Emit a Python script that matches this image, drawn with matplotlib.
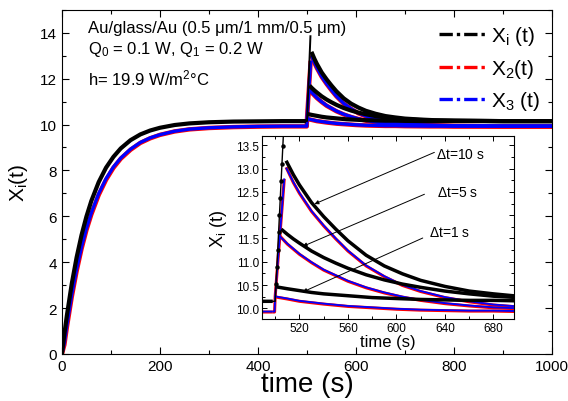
import matplotlib.pyplot as plt
from matplotlib.lines import Line2D
from matplotlib.ticker import MultipleLocator, FormatStrFormatter

plt.rcParams["font.family"] = ["Liberation Sans", "DejaVu Sans"]
plt.rcParams["mathtext.default"] = "regular"

# heating from t=0 up to the pulse
t_heat = [0, 5, 10, 20, 30, 40, 50, 60, 75, 90, 105, 120, 140, 160, 180, 200,
          230, 260, 300, 350, 400, 450, 498]
x1_heat = [0, 0.87, 1.66, 3.05, 4.21, 5.18, 5.99, 6.67, 7.49, 8.12, 8.59, 8.96,
           9.32, 9.57, 9.74, 9.86, 9.98, 10.05, 10.10, 10.13, 10.14, 10.15, 10.15]
x2_heat = [0, 0.40, 1.15, 2.48, 3.61, 4.58, 5.40, 6.08, 6.93, 7.59, 8.11, 8.51,
           8.90, 9.20, 9.40, 9.55, 9.70, 9.79, 9.85, 9.89, 9.91, 9.92, 9.92]
x3_heat = [0, 0.48, 1.24, 2.57, 3.70, 4.66, 5.47, 6.15, 6.99, 7.64, 8.15, 8.54,
           8.93, 9.22, 9.42, 9.56, 9.71, 9.80, 9.86, 9.90, 9.92, 9.93, 9.93]

# rise during the pulse
t1_rise = [498, 500, 500.7, 501.4, 502.1, 502.8, 503.5, 504.2, 504.9, 505.6,
           506.3, 507.0]
x1_rise = [10.15, 10.15, 10.52, 10.89, 11.26, 11.63, 12.00, 12.37, 12.74,
           13.11, 13.48, 13.85]
t23_rise = [498, 499.5, 500, 507.5]
x2_rise = [9.92, 9.92, 10.26, 12.78]
x3_rise = [9.93, 9.93, 10.27, 12.79]

# decay, dt = 10 s
t_d10 = [509, 515, 520, 530, 540, 550, 560, 575, 590, 605, 620, 640, 660, 680,
         700, 730, 760, 800, 850, 900, 1000]
x1_d10 = [13.17, 12.87, 12.65, 12.27, 11.97, 11.70, 11.45, 11.14, 10.91, 10.74,
          10.60, 10.47, 10.37, 10.31, 10.26, 10.22, 10.19, 10.17, 10.16, 10.15, 10.15]
x2_d10 = [13.03, 12.70, 12.47, 12.08, 11.77, 11.49, 11.23, 10.91, 10.68, 10.49,
          10.36, 10.23, 10.14, 10.07, 10.03, 9.98, 9.96, 9.94, 9.93, 9.92, 9.92]
x3_d10 = [13.02, 12.71, 12.48, 12.09, 11.78, 11.50, 11.24, 10.92, 10.69, 10.50,
          10.37, 10.24, 10.15, 10.08, 10.04, 9.99, 9.97, 9.95, 9.94, 9.93, 9.93]

# decay, dt = 5 s
t1_d5 = [505, 510, 515, 520, 530, 540, 550, 560, 575, 590, 605, 620, 640, 660,
         680, 700, 730, 760, 800, 850, 900, 1000]
x1_d5 = [11.70, 11.59, 11.49, 11.40, 11.23, 11.09, 10.97, 10.86, 10.72, 10.61,
         10.52, 10.45, 10.37, 10.31, 10.26, 10.23, 10.20, 10.18, 10.17, 10.16, 10.15, 10.15]
t23_d5 = [504, 510, 515, 520, 530, 540, 550, 560, 575, 590, 605, 620, 640, 660,
          680, 700, 730, 760, 800, 850, 900, 1000]
x2_d5 = [11.55, 11.38, 11.27, 11.16, 10.98, 10.82, 10.70, 10.58, 10.44, 10.33,
         10.24, 10.17, 10.10, 10.05, 10.01, 9.99, 9.96, 9.95, 9.93, 9.93, 9.92, 9.92]
x3_d5 = [11.54, 11.39, 11.28, 11.17, 10.99, 10.83, 10.71, 10.59, 10.45, 10.34,
         10.25, 10.18, 10.11, 10.06, 10.02, 10.00, 9.97, 9.96, 9.94, 9.94, 9.93, 9.93]

# decay, dt = 1 s
t1_d1 = [501, 510, 520, 530, 540, 560, 580, 600, 620, 640, 660, 680, 700, 750,
         800, 900, 1000]
x1_d1 = [10.46, 10.42, 10.38, 10.34, 10.31, 10.27, 10.23, 10.21, 10.19, 10.18,
         10.17, 10.17, 10.16, 10.15, 10.15, 10.15, 10.15]
t23_d1 = [500, 501, 510, 520, 530, 540, 560, 580, 600, 620, 640, 660, 680, 700,
          750, 800, 900, 1000]
x2_d1 = [10.26, 10.24, 10.20, 10.15, 10.12, 10.09, 10.04, 10.01, 9.98, 9.96,
         9.95, 9.94, 9.94, 9.93, 9.92, 9.92, 9.92, 9.92]
x3_d1 = [10.27, 10.25, 10.21, 10.16, 10.13, 10.10, 10.05, 10.02, 9.99, 9.97,
         9.96, 9.95, 9.95, 9.94, 9.93, 9.93, 9.93, 9.93]

legend_labels = ["X$_i$ (t)", "X$_2$(t)", "X$_3$ (t)"]
pulse_labels = ["$\\Delta$t=10 s", "$\\Delta$t=5 s", "$\\Delta$t=1 s"]


def draw_curves(ax, lw_k, lw_r, lw_b, dots):
    red_curves = [(t_heat, x2_heat), (t23_rise, x2_rise), (t_d10, x2_d10),
                  (t23_d5, x2_d5), (t23_d1, x2_d1)]
    blue_curves = [(t_heat, x3_heat), (t23_rise, x3_rise), (t_d10, x3_d10),
                   (t23_d5, x3_d5), (t23_d1, x3_d1)]
    black_curves = [(t_heat, x1_heat), (t_d10, x1_d10), (t1_d5, x1_d5),
                    (t1_d1, x1_d1)]
    for t, x in red_curves:
        ax.plot(t, x, color="red", lw=lw_r, solid_capstyle="butt")
    for t, x in blue_curves:
        ax.plot(t, x, color="blue", lw=lw_b, solid_capstyle="butt")
    for t, x in black_curves:
        ax.plot(t, x, color="black", lw=lw_k, solid_capstyle="butt")
    if dots:
        ax.plot(t1_rise, x1_rise, color="black", lw=1.0, marker="o", ms=2.2,
                markevery=slice(2, None))
    else:
        ax.plot(t1_rise, x1_rise, color="black", lw=1.4)


fig = plt.figure(figsize=(5.68, 4.02), dpi=100)

# main panel
ax = fig.add_axes([0.109, 0.117, 0.863, 0.856])
draw_curves(ax, 3.0, 3.2, 2.4, dots=False)
ax.set_xlim(0, 1000)
ax.set_ylim(0, 15)
ax.xaxis.set_major_locator(MultipleLocator(200))
ax.xaxis.set_minor_locator(MultipleLocator(100))
ax.yaxis.set_major_locator(MultipleLocator(2))
ax.yaxis.set_minor_locator(MultipleLocator(1))
ax.tick_params(which="both", direction="in", top=True, right=True,
               labelsize=11, width=0.8)
ax.tick_params(which="major", length=5)
ax.tick_params(which="minor", length=3)
ax.set_xlabel("time (s)", fontsize=20, labelpad=-1)
ax.set_ylabel("X$_i$(t)", fontsize=15, labelpad=7)

ax.text(0.053, 0.948, "Au/glass/Au (0.5 \u03bcm/1 mm/0.5 \u03bcm)",
        transform=ax.transAxes, fontsize=12, va="center")
ax.text(0.053, 0.887, "Q$_0$ = 0.1 W, Q$_1$ = 0.2 W",
        transform=ax.transAxes, fontsize=12, va="center")
ax.text(0.053, 0.805, "h= 19.9 W/m$^2$\u00b0C",
        transform=ax.transAxes, fontsize=12, va="center")

dashdot = (0, (4, 1.2, 1, 1.2))
handles = [Line2D([], [], color=c, lw=2.4, linestyle=dashdot)
           for c in ["black", "red", "blue"]]
ax.legend(handles, legend_labels, loc="upper right", frameon=False,
          fontsize=15, handlelength=2.3, handletextpad=0.2,
          labelspacing=0.45, borderaxespad=0.3, bbox_to_anchor=(1.005, 1.0))

# inset zoom on the pulses
axin = fig.add_axes([0.461, 0.204, 0.444, 0.455], facecolor="white")
draw_curves(axin, 2.5, 2.2, 1.3, dots=True)
axin.set_xlim(489, 697)
axin.set_ylim(9.77, 13.7)
axin.xaxis.set_major_locator(MultipleLocator(40))
axin.xaxis.set_minor_locator(MultipleLocator(20))
axin.yaxis.set_major_locator(MultipleLocator(0.5))
axin.yaxis.set_minor_locator(MultipleLocator(0.25))
axin.yaxis.set_major_formatter(FormatStrFormatter("%.1f"))
axin.tick_params(which="both", direction="in", top=True, right=True,
                 labelsize=8.5, width=0.7, pad=2)
axin.tick_params(which="major", length=3.5)
axin.tick_params(which="minor", length=2)
axin.set_xlabel("time (s)", fontsize=12, labelpad=0)
axin.set_ylabel("X$_i$ (t)", fontsize=13, labelpad=5)

arrow_tips = [(532.4, 12.24), (522.7, 11.33), (522.7, 10.35)]
arrow_tails = [(631.3, 13.35), (623.1, 12.45), (621.7, 11.51)]
label_pos = [(633.0, 13.31), (633.8, 12.49), (627.2, 11.64)]
for lab, tip, tail, pos in zip(pulse_labels, arrow_tips, arrow_tails, label_pos):
    axin.annotate("", xy=tip, xytext=tail,
                  arrowprops=dict(arrowstyle="-|>", color="black", lw=0.7,
                                  mutation_scale=6, shrinkA=0, shrinkB=0))
    axin.text(pos[0], pos[1], lab, fontsize=10, ha="left", va="center")

fig.savefig("out.png", dpi=100)
